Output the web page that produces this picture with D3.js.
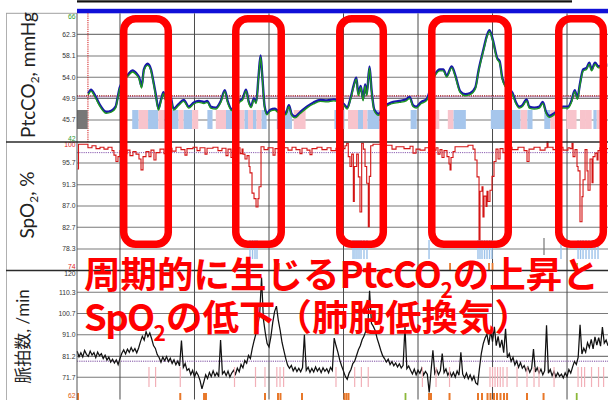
<!DOCTYPE html>
<html lang="ja">
<head>
<meta charset="utf-8">
<title>PtcCO2 / SpO2 / 脈拍数</title>
<script src="https://cdn.jsdelivr.net/npm/d3@7/dist/d3.min.js"></script>
<style>
  html, body { margin: 0; padding: 0; background: #fff; }
  svg { display: block; }
</style>
</head>
<body>
<svg id="chart" width="608" height="400"></svg>
<script>
// ---- time axis: minutes, vertical grid every 10 min ----
const timeDomain = [-5.77, 65.5];
const timeGrid = [0, 10, 20, 30, 40, 50, 60];
const recordingSpan = [-5.77, 65.5];
const scoredSpan = [-5.77, 60.67];
const sensorStart = -4.3;

// ---- PtcCO2 (mmHg) ----
const co2Domain = [41.45, 66.38];
const co2Ticks = [66, 62.3, 58.1, 54.0, 49.9, 45.7, 42];
const co2TickLabels = ["66", "62.3", "58.1", "54.0", "49.9", "45.7", "42"];
const co2Reference = 50.4;
const co2Series = [
  [-4.30, 50.9], [-4.21, 51.0], [-3.89, 51.6], [-3.44, 50.7], [-2.76, 48.8], [-1.85, 47.3],
  [-1.18, 47.5], [-0.59, 48.3], [-0.27, 50.4], [-0.04, 52.0], [1.09, 54.5], [1.68, 55.3],
  [2.22, 54.7], [2.58, 53.9], [2.90, 52.2], [3.21, 55.5], [3.71, 56.6], [4.16, 55.5],
  [4.48, 53.2], [4.80, 50.7], [5.16, 47.9], [5.52, 49.7], [5.84, 51.1], [6.16, 49.7],
  [6.61, 51.3], [7.20, 47.9], [7.87, 48.8], [8.55, 49.6], [9.23, 48.3], [9.91, 49.1],
  [10.59, 49.4], [11.27, 49.2], [11.72, 49.4], [12.17, 48.3], [12.85, 48.1], [13.53, 49.4],
  [14.07, 51.5], [14.44, 49.4], [15.02, 47.8], [15.57, 48.4], [16.02, 49.4], [16.47, 49.9],
  [16.92, 51.6], [17.29, 49.2], [17.60, 48.4], [17.97, 49.9], [18.28, 49.2], [18.60, 54.2],
  [18.87, 58.2], [19.10, 54.2], [19.41, 48.4], [19.73, 47.0], [20.18, 47.7], [20.77, 47.9],
  [21.22, 47.5], [21.68, 47.8], [22.26, 47.0], [22.67, 48.6], [23.03, 46.9], [23.49, 46.4],
  [24.16, 47.2], [25.07, 48.3], [25.97, 49.1], [26.88, 49.6], [27.78, 49.5], [28.69, 49.7],
  [29.23, 49.5], [30.05, 48.8], [30.50, 48.1], [30.95, 50.0], [31.40, 52.6], [31.72, 53.9],
  [31.99, 50.7], [32.31, 52.3], [32.63, 49.7], [32.90, 52.6], [33.12, 50.7], [33.49, 56.1],
  [33.76, 51.6], [34.12, 47.8], [34.71, 46.9], [35.48, 48.3], [36.38, 49.1], [37.51, 49.4],
  [38.42, 49.7], [38.87, 50.2], [39.32, 48.6], [39.77, 48.3], [40.45, 49.2], [41.13, 49.7],
  [42.26, 54.5], [42.94, 55.5], [43.39, 55.5], [43.85, 54.3], [44.53, 56.1], [44.98, 54.5],
  [45.66, 51.3], [46.34, 50.7], [47.01, 50.9], [47.69, 52.0], [48.15, 55.5], [48.82, 59.6],
  [49.28, 62.2], [49.59, 63.1], [50.05, 61.2], [50.63, 57.7], [50.95, 57.1], [51.31, 53.9],
  [51.77, 52.3], [52.67, 51.0], [53.12, 49.2], [53.58, 48.3], [54.03, 48.6], [54.57, 49.7],
  [54.93, 48.3], [55.61, 48.1], [56.29, 48.3], [56.74, 49.2], [57.20, 47.2], [57.65, 46.5],
  [58.19, 46.9], [59.46, 48.3], [60.14, 48.3], [60.59, 49.4], [61.04, 51.5], [61.40, 50.0],
  [61.72, 52.6], [62.17, 55.5], [62.62, 55.8], [62.99, 56.8], [63.30, 55.5], [63.76, 56.8],
  [64.21, 56.1], [64.89, 56.4], [65.40, 56.4]
];

// respiratory events [start, end, kind]: C = calibration, A = apnea, H = hypopnea
const respEvents = [
  [-5.77, -4.34, "C"],
  [1.64, 2.50, "A"], [2.50, 3.77, "H"], [3.77, 5.14, "A"], [5.14, 5.96, "H"],
  [5.96, 7.87, "A"], [7.87, 8.55, "H"], [8.55, 9.68, "A"], [9.68, 10.50, "H"],
  [11.73, 12.42, "A"], [12.86, 14.23, "H"], [14.23, 15.05, "A"], [15.05, 16.72, "H"],
  [16.72, 17.18, "A"], [17.18, 17.85, "H"], [17.85, 18.32, "A"], [18.32, 19.01, "H"],
  [19.01, 19.68, "A"], [21.05, 23.09, "A"], [23.32, 24.91, "H"],
  [28.78, 30.13, "A"], [30.60, 31.95, "H"], [31.95, 32.62, "A"], [32.62, 33.22, "H"],
  [33.22, 34.82, "A"], [39.01, 39.83, "A"], [41.73, 42.86, "H"], [44.00, 44.78, "H"],
  [44.78, 46.42, "A"], [49.77, 53.77, "A"], [53.77, 54.68, "H"], [54.68, 55.37, "A"],
  [56.95, 57.77, "A"], [57.77, 58.78, "H"], [58.78, 59.33, "A"], [59.91, 61.28, "H"],
  [61.74, 62.42, "H"], [62.42, 63.31, "H"], [63.54, 63.99, "A"], [63.99, 65.14, "H"]
];

// ---- SpO2 (%) ----
const spo2Domain = [73.95, 99.95];
const spo2Ticks = [100, 95.7, 91.3, 87.0, 82.7, 78.3, 74];
const spo2TickLabels = ["100", "95.7", "91.3", "87.0", "82.7", "78.3", "74"];
const spo2Reference = 97.8;
const spo2Series = [
  [-5.70, 94.5], [-5.57, 99.5], [-4.30, 98.8], [-3.76, 99.2], [-3.22, 98.6], [-2.68, 98.9],
  [-2.15, 98.5], [-1.61, 98.9], [-1.07, 98.2], [-0.81, 97.3], [-0.54, 96.0], [-0.27, 97.0],
  [0.00, 98.2], [0.54, 97.6], [0.94, 98.3], [1.34, 97.2], [1.74, 98.0], [2.15, 97.5],
  [2.55, 96.5], [2.82, 94.3], [3.09, 97.0], [3.49, 98.0], [3.89, 97.0], [4.16, 98.3],
  [4.56, 96.3], [4.83, 97.8], [5.37, 98.5], [5.91, 97.6], [6.31, 98.7], [6.98, 98.1],
  [7.52, 98.9], [8.19, 98.4], [8.72, 97.3], [8.99, 98.6], [9.80, 98.9], [10.34, 98.2],
  [10.74, 98.8], [11.41, 97.5], [11.68, 98.7], [12.48, 98.9], [13.15, 98.2], [13.69, 98.7],
  [14.23, 97.2], [14.50, 98.5], [14.90, 96.8], [15.17, 98.2], [15.70, 98.8], [16.11, 97.6],
  [16.38, 98.5], [16.51, 97.5], [16.78, 96.5], [17.05, 97.2], [17.32, 95.0], [17.45, 93.7],
  [17.72, 89.6], [17.99, 88.5], [18.26, 86.8], [18.52, 88.5], [18.66, 90.9], [18.93, 99.0],
  [19.33, 98.4], [19.87, 98.8], [20.54, 97.3], [20.81, 98.6], [21.48, 98.2], [22.01, 98.8],
  [22.55, 98.3], [23.09, 98.9], [23.62, 98.4], [24.16, 97.6], [24.43, 98.7], [25.10, 98.3],
  [25.50, 97.4], [25.77, 98.6], [26.44, 98.9], [27.11, 98.4], [27.79, 98.8], [28.32, 98.2],
  [28.99, 98.7], [29.53, 97.8], [29.80, 98.6], [30.20, 99.2], [30.43, 99.7], [30.64, 97.0],
  [30.87, 95.0], [31.10, 97.5], [31.32, 87.9], [31.45, 95.0], [31.77, 97.5], [31.99, 92.9],
  [32.21, 85.8], [32.44, 99.7], [32.66, 98.5], [32.89, 95.0], [33.11, 91.6], [33.33, 82.8],
  [33.46, 93.0], [33.65, 99.2], [33.96, 99.5], [35.57, 99.3], [36.51, 98.5], [37.05, 99.0],
  [38.12, 98.6], [38.93, 99.1], [39.33, 97.7], [39.73, 98.5], [40.27, 98.3], [40.94, 98.8],
  [41.61, 98.3], [42.42, 98.8], [42.68, 97.5], [42.95, 98.4], [43.22, 96.8], [43.49, 98.2],
  [43.89, 97.0], [44.16, 95.5], [44.30, 94.3], [44.43, 96.8], [44.70, 98.0], [44.97, 99.0],
  [46.71, 99.3], [47.38, 98.5], [47.65, 96.3], [47.92, 92.9], [48.19, 78.7], [48.32, 90.0],
  [48.59, 90.9], [48.72, 84.8], [48.86, 89.0], [49.13, 86.9], [49.26, 90.0], [49.40, 87.9],
  [49.66, 90.2], [49.93, 93.0], [50.20, 96.0], [50.47, 98.5], [50.74, 96.5], [51.01, 98.6],
  [51.41, 97.8], [51.81, 98.9], [52.62, 98.4], [53.42, 98.9], [54.23, 98.2], [54.63, 96.0],
  [54.90, 98.5], [55.57, 98.9], [56.38, 98.3], [57.05, 98.8], [57.32, 100.0], [57.45, 98.9],
  [58.12, 98.4], [58.79, 98.9], [59.46, 98.3], [60.13, 98.8], [60.40, 98.6], [60.67, 99.7],
  [60.81, 97.0], [61.07, 98.4], [61.34, 95.0], [61.48, 94.1], [61.74, 83.8], [62.01, 88.9],
  [62.15, 92.3], [62.42, 98.4], [62.68, 94.1], [62.82, 90.2], [63.09, 96.5], [63.36, 91.7],
  [63.49, 97.0], [63.76, 97.7], [64.03, 96.3], [64.16, 98.2], [64.43, 98.8], [64.97, 98.6],
  [65.50, 98.6]
];
const desatMarks = [
  17.45, 17.79, 18.12, 18.39,
  31.28, 31.54, 31.81, 32.08, 32.35, 32.75, 33.15,
  41.48,
  48.05, 48.32, 48.59, 48.93, 49.26, 49.60, 49.93,
  59.19,
  61.48, 61.81, 62.15, 62.55, 62.95, 63.36, 63.76, 64.16
];
const artifactMarks = [56.91];
const spo2FlagsOrange = [21.34, 44.30, 49.53, 50.00];
const spo2FlagsGreen = [61.34];

// ---- pulse rate (/min), one sample every 15 s ----
const prDomain = [61.6, 120.2];
const prTicks = [120, 110.3, 100.7, 91.0, 81.2, 71.7, 62];
const prTickLabels = ["120", "110.3", "100.7", "91.0", "81.2", "71.7", "62"];
const prReference = 79.0;
const prStart = -5.75;
const prStep = 0.25;
const prValues = [
  83.5, 81.0, 82.8, 80.9, 83.9, 82.1, 81.2, 83.6, 81.8, 82.9, 80.6, 83.1, 81.5, 82.4, 80.2, 81.7, 79.5, 80.8, 78.6, 79.9,
  78.2, 79.6, 77.5, 80.3, 82.6, 84.1, 82.3, 84.5, 83.0, 85.2, 83.4, 84.7, 82.8, 85.0, 87.9, 90.3, 88.6, 92.4, 90.1, 91.8,
  89.2, 86.1, 84.8, 82.0, 80.7, 78.5, 80.9, 79.2, 81.1, 78.8, 80.3, 78.0, 79.6, 77.4, 79.1, 76.8, 88.4, 76.2, 77.9, 74.8,
  75.6, 72.9, 74.8, 71.8, 74.1, 72.6, 70.2, 66.4, 69.5, 72.8, 71.1, 73.9, 72.0, 74.6, 72.3, 73.8, 71.9, 88.6, 73.2, 74.4,
  72.4, 74.5, 71.8, 73.6, 74.9, 73.1, 75.8, 74.2, 77.5, 76.0, 79.3, 78.1, 81.6, 80.2, 84.7, 88.3, 91.5, 95.2, 100.5, 117.0,
  98.0, 92.0, 87.0, 85.5, 90.0, 96.5, 101.5, 104.0, 97.5, 93.0, 87.5, 83.8, 80.2, 77.2, 75.8, 77.1, 74.6, 76.2, 74.3, 75.8,
  74.2, 76.1, 91.0, 74.8, 76.3, 73.9, 75.7, 74.1, 76.4, 74.5, 75.9, 73.8, 76.0, 74.4, 75.6, 73.7, 76.2, 74.8, 89.5, 86.0,
  83.0, 79.5, 76.8, 74.5, 72.1, 70.8, 73.6, 75.2, 77.9, 79.0, 81.6, 84.2, 86.0, 88.7, 90.4, 92.8, 94.1, 111.0, 96.2, 94.8,
  93.0, 89.5, 86.8, 84.0, 81.5, 80.2, 78.6, 79.9, 77.5, 78.8, 76.9, 78.2, 76.4, 77.8, 75.9, 77.1, 94.5, 75.6, 76.8, 74.9,
  73.2, 75.4, 72.8, 74.9, 73.5, 75.8, 72.7, 74.3, 73.1, 64.8, 74.6, 84.0, 73.4, 75.2, 72.9, 74.7, 82.5, 73.8, 75.5, 72.6,
  74.3, 72.1, 73.9, 71.8, 74.5, 72.6, 83.0, 73.1, 71.4, 73.6, 71.0, 72.8, 70.3, 72.2, 69.1, 68.4, 75.8, 82.6, 86.9, 89.5,
  91.2, 86.4, 92.8, 87.9, 94.6, 86.1, 90.3, 85.2, 88.7, 82.9, 93.7, 80.6, 82.4, 78.9, 80.7, 77.3, 79.1, 76.2, 78.4, 75.8,
  77.0, 74.6, 76.3, 73.9, 75.8, 84.5, 74.1, 76.0, 73.6, 75.4, 72.8, 74.7, 95.3, 73.5, 75.2, 72.4, 74.3, 71.9, 73.8, 72.1,
  73.1, 71.4, 73.7, 72.0, 75.2, 73.6, 76.4, 78.9, 77.5, 80.8, 95.5, 82.3, 84.9, 83.1, 87.4, 85.2, 88.9, 84.6, 90.1, 86.3,
  89.7, 85.8, 94.5, 87.2, 88.6, 86.0
];
const arousalMarks = [
  3.89, 4.78, 8.09, 15.37, 18.19, 19.46, 21.05, 21.48, 21.96, 28.99, 31.50, 32.40, 33.32,
  40.59, 42.42, 44.23, 49.66, 50.00, 50.34, 50.68, 51.04, 51.41, 51.95, 53.29, 54.63,
  55.57, 56.24, 58.26, 61.48, 61.95, 62.36, 63.29, 64.23, 64.91
];
const movementMarks = [
  -5.64, 8.09, 11.28, 11.54, 19.46, 21.21, 21.54, 24.43, 30.13, 30.40, 30.67, 41.48, 41.74,
  44.23, 48.05, 48.59, 49.33, 49.73, 50.20, 50.60, 51.07, 51.54, 51.95, 54.63, 56.85
];
const movementMarksGreen = [38.32, 61.30];

// windows of cyclic hypoventilation
const highlightWindows = [[0.50, 6.48], [15.54, 21.64], [29.50, 35.34], [41.85, 52.11], [58.89, 64.87]];

// ================= drawing =================
const svg = d3.select("#chart");
const plotLeft = 77, plotRight = 608;
const p1 = { top: 13.3, bottom: 142 };
const p2 = { top: 142, bottom: 270.5 };
const p3 = { top: 270.5, bottom: 399.5 };

const x = d3.scaleLinear().domain(timeDomain).range([plotLeft, plotRight]);
const yCO2 = d3.scaleLinear().domain(co2Domain).range([p1.bottom, p1.top]);
const ySpO2 = d3.scaleLinear().domain(spo2Domain).range([p2.bottom, p2.top]);
const yPR = d3.scaleLinear().domain(prDomain).range([p3.bottom, p3.top]);

// status bars above the plot
svg.append("rect").attr("x", x(scoredSpan[0])).attr("y", 0.3)
  .attr("width", x(scoredSpan[1]) - x(scoredSpan[0])).attr("height", 2.2).attr("fill", "#111");
svg.append("rect").attr("x", x(recordingSpan[0])).attr("y", 8.8)
  .attr("width", x(recordingSpan[1]) - x(recordingSpan[0])).attr("height", 4.5).attr("fill", "#1010d8");

// label column frame
svg.append("line").attr("x1", 6.5).attr("x2", 6.5).attr("y1", 13).attr("y2", 400)
  .attr("stroke", "#b0b0b0").attr("stroke-width", 1);
svg.append("line").attr("x1", 6).attr("x2", plotLeft).attr("y1", 13.3).attr("y2", 13.3)
  .attr("stroke", "#a0a0a0").attr("stroke-width", 1);

// horizontal grid for each panel (inner ticks only)
function hGrid(scale, ticks) {
  svg.append("g").selectAll("line").data(ticks.slice(1, -1)).join("line")
    .attr("x1", plotLeft).attr("x2", plotRight)
    .attr("y1", d => scale(d)).attr("y2", d => scale(d))
    .attr("stroke", "#7a7a7a").attr("stroke-width", 1.1);
}
hGrid(yCO2, co2Ticks);
hGrid(ySpO2, spo2Ticks);
hGrid(yPR, prTicks);

// vertical grid
svg.append("g").selectAll("line").data(timeGrid).join("line")
  .attr("x1", d => x(d)).attr("x2", d => x(d))
  .attr("y1", p1.top).attr("y2", p3.bottom)
  .attr("stroke", "#4a4a4a").attr("stroke-width", 1);

// tick labels; limit values are coloured per channel
function tickLabels(scale, ticks, labels, panel, topColor, bottomColor) {
  svg.append("g").selectAll("text").data(ticks).join("text")
    .attr("x", 75.5)
    .attr("y", d => Math.max(panel.top + 3, Math.min(panel.bottom - 3.5, scale(d))))
    .attr("dy", "0.35em")
    .attr("text-anchor", "end")
    .attr("font-family", "'Liberation Sans', Arial, sans-serif")
    .attr("font-size", 6.8)
    .attr("fill", (d, i) => i === 0 ? topColor : (i === ticks.length - 1 ? bottomColor : "#333"))
    .text((d, i) => labels[i]);
}
tickLabels(yCO2, co2Ticks, co2TickLabels, p1, "#2e9a2e", "#2e9a2e");
tickLabels(ySpO2, spo2Ticks, spo2TickLabels, p2, "#e01818", "#e01818");
tickLabels(yPR, prTicks, prTickLabels, p3, "#333", "#e05a10");

// reference lines
svg.append("line").attr("x1", plotLeft).attr("x2", plotRight)
  .attr("y1", yCO2(co2Reference) + 1).attr("y2", yCO2(co2Reference) + 1)
  .attr("stroke", "#b49ad0").attr("stroke-width", 1);
svg.append("line").attr("x1", plotLeft).attr("x2", plotRight)
  .attr("y1", yCO2(co2Reference)).attr("y2", yCO2(co2Reference))
  .attr("stroke", "#9a1010").attr("stroke-width", 1.3).attr("stroke-dasharray", "1.2,1");
svg.append("line").attr("x1", plotLeft).attr("x2", plotRight)
  .attr("y1", ySpO2(spo2Reference)).attr("y2", ySpO2(spo2Reference))
  .attr("stroke", "#8a5cb0").attr("stroke-width", 1).attr("stroke-dasharray", "1.2,1");
svg.append("line").attr("x1", plotLeft).attr("x2", plotRight)
  .attr("y1", yPR(prReference)).attr("y2", yPR(prReference))
  .attr("stroke", "#7a4aa0").attr("stroke-width", 1).attr("stroke-dasharray", "1.2,1");
svg.append("line").attr("x1", x(sensorStart)).attr("x2", x(sensorStart))
  .attr("y1", p1.top).attr("y2", p1.bottom)
  .attr("stroke", "#d01010").attr("stroke-width", 1).attr("stroke-dasharray", "1.2,1");

// respiratory event band
const eventColor = { C: "#777777", A: "#a6c6ec", H: "#f8c4cc" };
svg.append("g").selectAll("rect").data(respEvents).join("rect")
  .attr("x", d => x(d[0])).attr("width", d => Math.max(1, x(d[1]) - x(d[0])))
  .attr("y", 110).attr("height", 19)
  .attr("fill", d => eventColor[d[2]]);

// PtcCO2 trend (blue) with its green companion trace
const co2Line = d3.line().x(d => x(d[0])).y(d => yCO2(d[1])).curve(d3.curveMonotoneX);
svg.append("path").datum(co2Series).attr("d", co2Line)
  .attr("fill", "none").attr("stroke", "#1818a8").attr("stroke-width", 2.4);
svg.append("path").datum(co2Series).attr("d", co2Line)
  .attr("transform", "translate(0,1.5)")
  .attr("fill", "none").attr("stroke", "#1e9a1e").attr("stroke-width", 1.3);

// SpO2 trace
const spo2Line = d3.line().x(d => x(d[0])).y(d => ySpO2(d[1])).curve(d3.curveStepAfter);
svg.append("path").datum(spo2Series).attr("d", spo2Line)
  .attr("fill", "none").attr("stroke", "#d41414").attr("stroke-width", 1.1);

// desaturation markers and flags
svg.append("g").selectAll("line").data(desatMarks).join("line")
  .attr("x1", d => x(d)).attr("x2", d => x(d)).attr("y1", 240).attr("y2", 259)
  .attr("stroke", "#9cc2ea").attr("stroke-width", 1.4);
svg.append("g").selectAll("line").data(artifactMarks).join("line")
  .attr("x1", d => x(d)).attr("x2", d => x(d)).attr("y1", 238).attr("y2", 255)
  .attr("stroke", "#777").attr("stroke-width", 1.2);
svg.append("g").selectAll("line").data(spo2FlagsOrange).join("line")
  .attr("x1", d => x(d)).attr("x2", d => x(d)).attr("y1", 263).attr("y2", 270)
  .attr("stroke", "#e8782a").attr("stroke-width", 1.8);
svg.append("g").selectAll("line").data(spo2FlagsGreen).join("line")
  .attr("x1", d => x(d)).attr("x2", d => x(d)).attr("y1", 263).attr("y2", 270)
  .attr("stroke", "#8cb83a").attr("stroke-width", 1.8);

// pulse rate trace
const prLine = d3.line().x((d, i) => x(prStart + i * prStep)).y(d => yPR(d));
svg.append("path").datum(prValues).attr("d", prLine)
  .attr("fill", "none").attr("stroke", "#111").attr("stroke-width", 1.25);

// arousal / movement markers
svg.append("g").selectAll("line").data(arousalMarks).join("line")
  .attr("x1", d => x(d)).attr("x2", d => x(d)).attr("y1", 367).attr("y2", 387)
  .attr("stroke", "#f2b0b8").attr("stroke-width", 1.2);
svg.append("g").selectAll("line").data(movementMarks).join("line")
  .attr("x1", d => x(d)).attr("x2", d => x(d)).attr("y1", 393).attr("y2", 400)
  .attr("stroke", "#e8782a").attr("stroke-width", 2);
svg.append("g").selectAll("line").data(movementMarksGreen).join("line")
  .attr("x1", d => x(d)).attr("x2", d => x(d)).attr("y1", 393).attr("y2", 400)
  .attr("stroke", "#8cb83a").attr("stroke-width", 1.8);

// panel frame lines
svg.append("line").attr("x1", plotLeft).attr("x2", plotLeft).attr("y1", p1.top).attr("y2", 400)
  .attr("stroke", "#555").attr("stroke-width", 1);
[p1.bottom, p2.bottom].forEach(yv => {
  svg.append("line").attr("x1", 6).attr("x2", plotRight).attr("y1", yv).attr("y2", yv)
    .attr("stroke", "#2a2a2a").attr("stroke-width", 1.4);
});

// channel titles (rotated)
function channelTitle(cx, cy, parts, size) {
  const t = svg.append("text")
    .attr("transform", `translate(${cx},${cy}) rotate(-90)`)
    .attr("text-anchor", "middle")
    .attr("font-family", "Lato, 'Noto Sans CJK JP', sans-serif")
    .attr("font-size", size).attr("fill", "#222");
  parts.forEach(p => {
    const s = t.append("tspan").text(p.text);
    if (p.sub) s.attr("font-size", size * 0.62).attr("dy", size * 0.22);
    if (p.after) s.attr("dy", -size * 0.22);
  });
}
channelTitle(35, 75, [{ text: "PtcCO" }, { text: "2", sub: true }, { text: ", mmHg", after: true }], 19);
channelTitle(34, 205, [{ text: "SpO" }, { text: "2", sub: true }, { text: ", %", after: true }], 19);
channelTitle(29, 336.5, [{ text: "脈拍数, /min" }], 17);

// highlight frames
svg.append("g").selectAll("rect").data(highlightWindows).join("rect")
  .attr("x", d => x(d[0])).attr("width", d => x(d[1]) - x(d[0]))
  .attr("y", 18.75).attr("height", 225.5)
  .attr("rx", 12).attr("ry", 12)
  .attr("fill", "none").attr("stroke", "#ff0000").attr("stroke-width", 7.5);

// annotation
function annotation(y, parts) {
  const t = svg.append("text").attr("x", 84).attr("y", y)
    .attr("font-family", "'Noto Sans CJK JP', sans-serif")
    .attr("font-weight", 700).attr("font-size", 36.5).attr("fill", "#ff0000");
  parts.forEach(p => {
    const s = t.append("tspan").text(p.text);
    if (p.latin) s.attr("letter-spacing", -1.6);
    if (p.sub) s.attr("font-size", 21).attr("dy", 10);
    if (p.after) s.attr("dy", -10);
  });
}
annotation(288, [{ text: "周期的に生じる" }, { text: "PtcCO", latin: true }, { text: "2", sub: true }, { text: "の上昇と", after: true }]);
annotation(331, [{ text: "SpO", latin: true }, { text: "2", sub: true }, { text: "の低下（肺胞低換気）", after: true }]);
</script>
</body>
</html>
